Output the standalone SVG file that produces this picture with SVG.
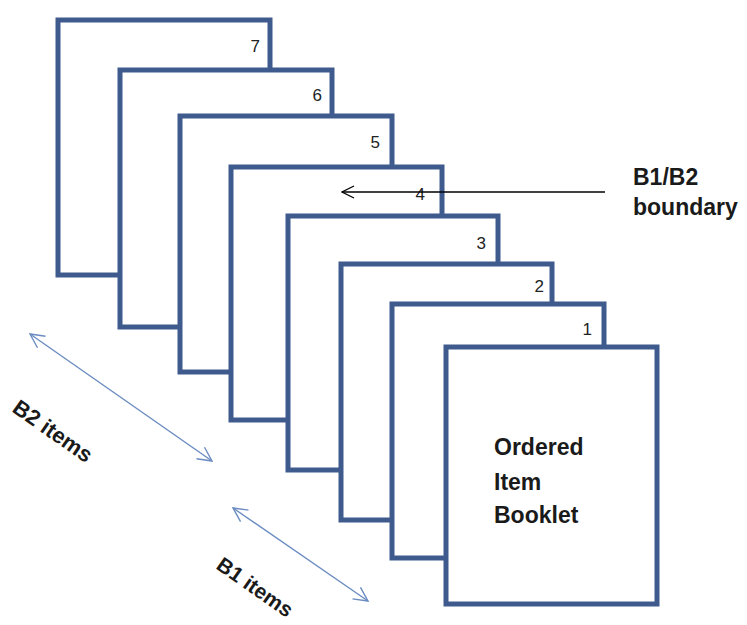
<svg xmlns="http://www.w3.org/2000/svg" width="747" height="625" viewBox="0 0 747 625">
<style>
.pg{fill:#fff;stroke:#3f5b8e;stroke-width:5;stroke-linejoin:miter}
.num{font-family:"Liberation Sans",Arial,sans-serif;font-size:17px;fill:#222;text-anchor:end}
.lbl{font-family:"Liberation Sans",Arial,sans-serif;font-weight:bold;fill:#1a1a1a}
</style>
<defs>
<marker id="ob" viewBox="0 0 14 14" refX="13" refY="7" markerWidth="14" markerHeight="14" markerUnits="userSpaceOnUse" orient="auto">
<path d="M1,1 L13,7 L1,13" fill="none" stroke="#000" stroke-width="1.3"/>
</marker>
<marker id="bl" viewBox="0 0 16 16" refX="15" refY="8" markerWidth="16" markerHeight="16" markerUnits="userSpaceOnUse" orient="auto-start-reverse">
<path d="M1,1 L15,8 L1,15" fill="none" stroke="#6b8cc2" stroke-width="1.4"/>
</marker>
</defs>
<rect width="747" height="625" fill="#fff"/>
<g id="page7"><rect class="pg" x="58" y="20" width="212" height="255"/><text class="num" x="260" y="52">7</text></g>
<g id="page6"><rect class="pg" x="120" y="70" width="212" height="257"/><text class="num" x="322" y="101">6</text></g>
<g id="page5"><rect class="pg" x="180" y="116" width="212" height="256"/><text class="num" x="380" y="148">5</text></g>
<g id="page4"><rect class="pg" x="231" y="167" width="211" height="253"/><text class="num" x="425" y="200">4</text></g>
<g id="page3"><rect class="pg" x="288" y="216" width="210" height="254"/><text class="num" x="486" y="249">3</text></g>
<g id="page2"><rect class="pg" x="341" y="264" width="211" height="256"/><text class="num" x="544" y="292">2</text></g>
<g id="page1"><rect class="pg" x="392" y="304" width="212" height="254"/><text class="num" x="592" y="335">1</text></g>
<g id="booklet"><rect class="pg" x="446" y="347" width="211" height="257"/>
<text class="lbl" font-size="23" x="494" y="455">Ordered</text>
<text class="lbl" font-size="23" x="494" y="490">Item</text>
<text class="lbl" font-size="23" x="494" y="523">Booklet</text></g>
<g id="connectors">
<line x1="605" y1="192" x2="342" y2="192" stroke="#000" stroke-width="1.3" marker-end="url(#ob)"/>
<line x1="30" y1="334" x2="212" y2="461" stroke="#6b8cc2" stroke-width="1.4" marker-start="url(#bl)" marker-end="url(#bl)"/>
<line x1="233" y1="508" x2="368" y2="601" stroke="#6b8cc2" stroke-width="1.4" marker-start="url(#bl)" marker-end="url(#bl)"/>
</g>
<g id="labels">
<text class="lbl" font-size="23" x="633" y="185">B1/B2</text>
<text class="lbl" font-size="23" x="633" y="215">boundary</text>
<text class="lbl" font-size="22" transform="translate(11,411) rotate(35)">B2 items</text>
<text class="lbl" font-size="21" transform="translate(215,568) rotate(35)">B1 items</text>
</g>
</svg>
